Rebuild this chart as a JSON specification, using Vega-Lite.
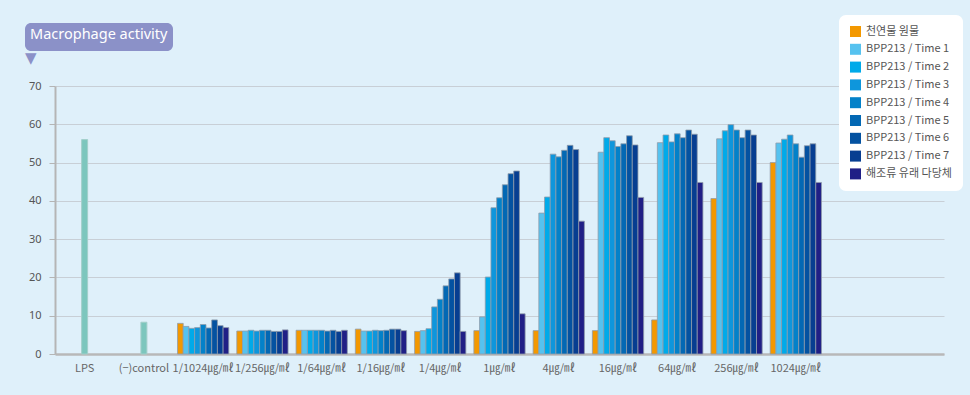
{
  "$schema": "https://vega.github.io/schema/vega-lite/v6.json",
  "width": 889,
  "height": 268,
  "autosize": {"type": "none"},
  "padding": {"left": 55, "top": 86, "right": 26, "bottom": 41},
  "background": "#dff0fa",
  "title": {"text": "▼", "anchor": "start", "frame": "group", "dx": -30, "offset": -66, "baseline": "bottom", "color": "#8b91c8", "fontSize": 15, "font": "DejaVu Sans"},
  "config": {"view": {"stroke": null}, "font": "Noto Sans"},
  "data": {"values": [
    {"cat": "LPS", "series": "ctrl", "value": 56.0},
    {"cat": "(−)control", "series": "ctrl", "value": 8.3},
    {"cat": "1/1024㎍/㎖", "series": "천연물 원물", "value": 8.0},
    {"cat": "1/1024㎍/㎖", "series": "BPP213 / Time 1", "value": 7.2},
    {"cat": "1/1024㎍/㎖", "series": "BPP213 / Time 2", "value": 6.7},
    {"cat": "1/1024㎍/㎖", "series": "BPP213 / Time 3", "value": 6.9},
    {"cat": "1/1024㎍/㎖", "series": "BPP213 / Time 4", "value": 7.7},
    {"cat": "1/1024㎍/㎖", "series": "BPP213 / Time 5", "value": 6.8},
    {"cat": "1/1024㎍/㎖", "series": "BPP213 / Time 6", "value": 8.9},
    {"cat": "1/1024㎍/㎖", "series": "BPP213 / Time 7", "value": 7.4},
    {"cat": "1/1024㎍/㎖", "series": "해조류 유래 다당체", "value": 6.9},
    {"cat": "1/256㎍/㎖", "series": "천연물 원물", "value": 6.0},
    {"cat": "1/256㎍/㎖", "series": "BPP213 / Time 1", "value": 6.0},
    {"cat": "1/256㎍/㎖", "series": "BPP213 / Time 2", "value": 6.2},
    {"cat": "1/256㎍/㎖", "series": "BPP213 / Time 3", "value": 6.0},
    {"cat": "1/256㎍/㎖", "series": "BPP213 / Time 4", "value": 6.2},
    {"cat": "1/256㎍/㎖", "series": "BPP213 / Time 5", "value": 6.2},
    {"cat": "1/256㎍/㎖", "series": "BPP213 / Time 6", "value": 5.9},
    {"cat": "1/256㎍/㎖", "series": "BPP213 / Time 7", "value": 5.9},
    {"cat": "1/256㎍/㎖", "series": "해조류 유래 다당체", "value": 6.3},
    {"cat": "1/64㎍/㎖", "series": "천연물 원물", "value": 6.2},
    {"cat": "1/64㎍/㎖", "series": "BPP213 / Time 1", "value": 6.2},
    {"cat": "1/64㎍/㎖", "series": "BPP213 / Time 2", "value": 6.2},
    {"cat": "1/64㎍/㎖", "series": "BPP213 / Time 3", "value": 6.2},
    {"cat": "1/64㎍/㎖", "series": "BPP213 / Time 4", "value": 6.2},
    {"cat": "1/64㎍/㎖", "series": "BPP213 / Time 5", "value": 6.0},
    {"cat": "1/64㎍/㎖", "series": "BPP213 / Time 6", "value": 6.2},
    {"cat": "1/64㎍/㎖", "series": "BPP213 / Time 7", "value": 5.9},
    {"cat": "1/64㎍/㎖", "series": "해조류 유래 다당체", "value": 6.2},
    {"cat": "1/16㎍/㎖", "series": "천연물 원물", "value": 6.5},
    {"cat": "1/16㎍/㎖", "series": "BPP213 / Time 1", "value": 6.0},
    {"cat": "1/16㎍/㎖", "series": "BPP213 / Time 2", "value": 6.0},
    {"cat": "1/16㎍/㎖", "series": "BPP213 / Time 3", "value": 6.2},
    {"cat": "1/16㎍/㎖", "series": "BPP213 / Time 4", "value": 6.1},
    {"cat": "1/16㎍/㎖", "series": "BPP213 / Time 5", "value": 6.2},
    {"cat": "1/16㎍/㎖", "series": "BPP213 / Time 6", "value": 6.5},
    {"cat": "1/16㎍/㎖", "series": "BPP213 / Time 7", "value": 6.5},
    {"cat": "1/16㎍/㎖", "series": "해조류 유래 다당체", "value": 6.1},
    {"cat": "1/4㎍/㎖", "series": "천연물 원물", "value": 5.9},
    {"cat": "1/4㎍/㎖", "series": "BPP213 / Time 1", "value": 6.1},
    {"cat": "1/4㎍/㎖", "series": "BPP213 / Time 2", "value": 6.6},
    {"cat": "1/4㎍/㎖", "series": "BPP213 / Time 3", "value": 12.3},
    {"cat": "1/4㎍/㎖", "series": "BPP213 / Time 4", "value": 14.3},
    {"cat": "1/4㎍/㎖", "series": "BPP213 / Time 5", "value": 17.8},
    {"cat": "1/4㎍/㎖", "series": "BPP213 / Time 6", "value": 19.6},
    {"cat": "1/4㎍/㎖", "series": "BPP213 / Time 7", "value": 21.2},
    {"cat": "1/4㎍/㎖", "series": "해조류 유래 다당체", "value": 5.9},
    {"cat": "1㎍/㎖", "series": "천연물 원물", "value": 6.1},
    {"cat": "1㎍/㎖", "series": "BPP213 / Time 1", "value": 9.7},
    {"cat": "1㎍/㎖", "series": "BPP213 / Time 2", "value": 20.1},
    {"cat": "1㎍/㎖", "series": "BPP213 / Time 3", "value": 38.2},
    {"cat": "1㎍/㎖", "series": "BPP213 / Time 4", "value": 40.8},
    {"cat": "1㎍/㎖", "series": "BPP213 / Time 5", "value": 44.2},
    {"cat": "1㎍/㎖", "series": "BPP213 / Time 6", "value": 47.1},
    {"cat": "1㎍/㎖", "series": "BPP213 / Time 7", "value": 47.8},
    {"cat": "1㎍/㎖", "series": "해조류 유래 다당체", "value": 10.5},
    {"cat": "4㎍/㎖", "series": "천연물 원물", "value": 6.1},
    {"cat": "4㎍/㎖", "series": "BPP213 / Time 1", "value": 36.8},
    {"cat": "4㎍/㎖", "series": "BPP213 / Time 2", "value": 41.0},
    {"cat": "4㎍/㎖", "series": "BPP213 / Time 3", "value": 52.2},
    {"cat": "4㎍/㎖", "series": "BPP213 / Time 4", "value": 51.5},
    {"cat": "4㎍/㎖", "series": "BPP213 / Time 5", "value": 53.2},
    {"cat": "4㎍/㎖", "series": "BPP213 / Time 6", "value": 54.5},
    {"cat": "4㎍/㎖", "series": "BPP213 / Time 7", "value": 53.4},
    {"cat": "4㎍/㎖", "series": "해조류 유래 다당체", "value": 34.7},
    {"cat": "16㎍/㎖", "series": "천연물 원물", "value": 6.1},
    {"cat": "16㎍/㎖", "series": "BPP213 / Time 1", "value": 52.7},
    {"cat": "16㎍/㎖", "series": "BPP213 / Time 2", "value": 56.5},
    {"cat": "16㎍/㎖", "series": "BPP213 / Time 3", "value": 55.7},
    {"cat": "16㎍/㎖", "series": "BPP213 / Time 4", "value": 54.2},
    {"cat": "16㎍/㎖", "series": "BPP213 / Time 5", "value": 54.9},
    {"cat": "16㎍/㎖", "series": "BPP213 / Time 6", "value": 57.0},
    {"cat": "16㎍/㎖", "series": "BPP213 / Time 7", "value": 54.6},
    {"cat": "16㎍/㎖", "series": "해조류 유래 다당체", "value": 40.9},
    {"cat": "64㎍/㎖", "series": "천연물 원물", "value": 8.9},
    {"cat": "64㎍/㎖", "series": "BPP213 / Time 1", "value": 55.2},
    {"cat": "64㎍/㎖", "series": "BPP213 / Time 2", "value": 57.2},
    {"cat": "64㎍/㎖", "series": "BPP213 / Time 3", "value": 55.4},
    {"cat": "64㎍/㎖", "series": "BPP213 / Time 4", "value": 57.5},
    {"cat": "64㎍/㎖", "series": "BPP213 / Time 5", "value": 56.5},
    {"cat": "64㎍/㎖", "series": "BPP213 / Time 6", "value": 58.5},
    {"cat": "64㎍/㎖", "series": "BPP213 / Time 7", "value": 57.4},
    {"cat": "64㎍/㎖", "series": "해조류 유래 다당체", "value": 44.8},
    {"cat": "256㎍/㎖", "series": "천연물 원물", "value": 40.6},
    {"cat": "256㎍/㎖", "series": "BPP213 / Time 1", "value": 56.2},
    {"cat": "256㎍/㎖", "series": "BPP213 / Time 2", "value": 58.3},
    {"cat": "256㎍/㎖", "series": "BPP213 / Time 3", "value": 59.9},
    {"cat": "256㎍/㎖", "series": "BPP213 / Time 4", "value": 58.5},
    {"cat": "256㎍/㎖", "series": "BPP213 / Time 5", "value": 56.5},
    {"cat": "256㎍/㎖", "series": "BPP213 / Time 6", "value": 58.5},
    {"cat": "256㎍/㎖", "series": "BPP213 / Time 7", "value": 57.2},
    {"cat": "256㎍/㎖", "series": "해조류 유래 다당체", "value": 44.8},
    {"cat": "1024㎍/㎖", "series": "천연물 원물", "value": 50.0},
    {"cat": "1024㎍/㎖", "series": "BPP213 / Time 1", "value": 55.1},
    {"cat": "1024㎍/㎖", "series": "BPP213 / Time 2", "value": 56.1},
    {"cat": "1024㎍/㎖", "series": "BPP213 / Time 3", "value": 57.2},
    {"cat": "1024㎍/㎖", "series": "BPP213 / Time 4", "value": 54.9},
    {"cat": "1024㎍/㎖", "series": "BPP213 / Time 5", "value": 51.4},
    {"cat": "1024㎍/㎖", "series": "BPP213 / Time 6", "value": 54.4},
    {"cat": "1024㎍/㎖", "series": "BPP213 / Time 7", "value": 54.9},
    {"cat": "1024㎍/㎖", "series": "해조류 유래 다당체", "value": 44.8}
  ]},
  "encoding": {
    "x": {
      "field": "cat", "type": "nominal", "sort": null,
      "scale": {
        "domain": ["LPS", "(−)control", "1/1024㎍/㎖", "1/256㎍/㎖", "1/64㎍/㎖", "1/16㎍/㎖", "1/4㎍/㎖", "1㎍/㎖", "4㎍/㎖", "16㎍/㎖", "64㎍/㎖", "256㎍/㎖", "1024㎍/㎖", "blank1", "blank2"],
        "paddingInner": 0.135, "paddingOuter": 0.0675
      },
      "axis": {
        "title": null, "labelAngle": 0, "ticks": false, "grid": false,
        "domainColor": "#b8b8b8", "domainWidth": 2.5,
        "labelColor": "#666666", "labelFontSize": 11, "labelPadding": 8,
        "labelFont": "Noto Sans CJK KR",
        "labelExpr": "indexof(datum.value, 'blank') == 0 ? '' : datum.value"
      }
    },
    "y": {
      "field": "value", "type": "quantitative",
      "scale": {"domain": [0, 70], "nice": false},
      "axis": {
        "title": null, "values": [0, 10, 20, 30, 40, 50, 60, 70],
        "grid": true, "gridColor": "#c8cfd6", "gridWidth": 1,
        "domainColor": "#b5b5b5", "domainWidth": 2,
        "tickColor": "#b5b5b5", "tickSize": 6, "labelPadding": 8,
        "labelColor": "#555555", "labelFontSize": 11
      }
    }
  },
  "layer": [
    {
      "transform": [{"filter": "datum.series == 'ctrl'"}],
      "mark": {"type": "bar", "color": "#7cc6bd", "stroke": "#a3cfca", "strokeWidth": 1},
      "encoding": {
        "size": {
          "field": "series", "type": "ordinal",
          "scale": {"range": [6, 6]},
          "legend": {
            "orient": "none", "legendX": -30, "legendY": -63,
            "title": " Macrophage activity ",
            "titleColor": "#ffffff", "titleFontSize": 14.5, "titleFontWeight": "normal",
            "titleFont": "Noto Sans", "titlePadding": 0,
            "fillColor": "#8b91c8", "cornerRadius": 6, "padding": 5,
            "values": ["ctrl"], "labelExpr": "''", "labelFontSize": 1,
            "symbolOpacity": 0, "symbolStrokeWidth": 0
          }
        }
      }
    },
    {
      "transform": [{"filter": "datum.series != 'ctrl'"}],
      "mark": {"type": "bar", "stroke": "#8f9cab", "strokeWidth": 0.8},
      "encoding": {
        "xOffset": {
          "field": "series", "type": "nominal",
          "scale": {
            "domain": ["천연물 원물", "BPP213 / Time 1", "BPP213 / Time 2", "BPP213 / Time 3", "BPP213 / Time 4", "BPP213 / Time 5", "BPP213 / Time 6", "BPP213 / Time 7", "해조류 유래 다당체"],
            "paddingInner": 0, "paddingOuter": 0
          }
        },
        "color": {
          "field": "series", "type": "nominal",
          "scale": {
            "domain": ["천연물 원물", "BPP213 / Time 1", "BPP213 / Time 2", "BPP213 / Time 3", "BPP213 / Time 4", "BPP213 / Time 5", "BPP213 / Time 6", "BPP213 / Time 7", "해조류 유래 다당체"],
            "range": ["#f39800", "#56c2ef", "#00aae9", "#0e96dc", "#0381c9", "#0368b4", "#0452a1", "#073e91", "#201f86"]
          },
          "legend": {
            "orient": "none", "legendX": 784, "legendY": -71,
            "title": null, "fillColor": "#ffffff", "cornerRadius": 7, "padding": 11,
            "symbolType": "square", "symbolSize": 121, "symbolStrokeWidth": 0, "symbolOpacity": 1,
            "labelFontSize": 11, "labelColor": "#555555", "labelFont": "Noto Sans CJK KR",
            "rowPadding": 5.8, "labelOffset": 5
          }
        }
      }
    }
  ]
}
